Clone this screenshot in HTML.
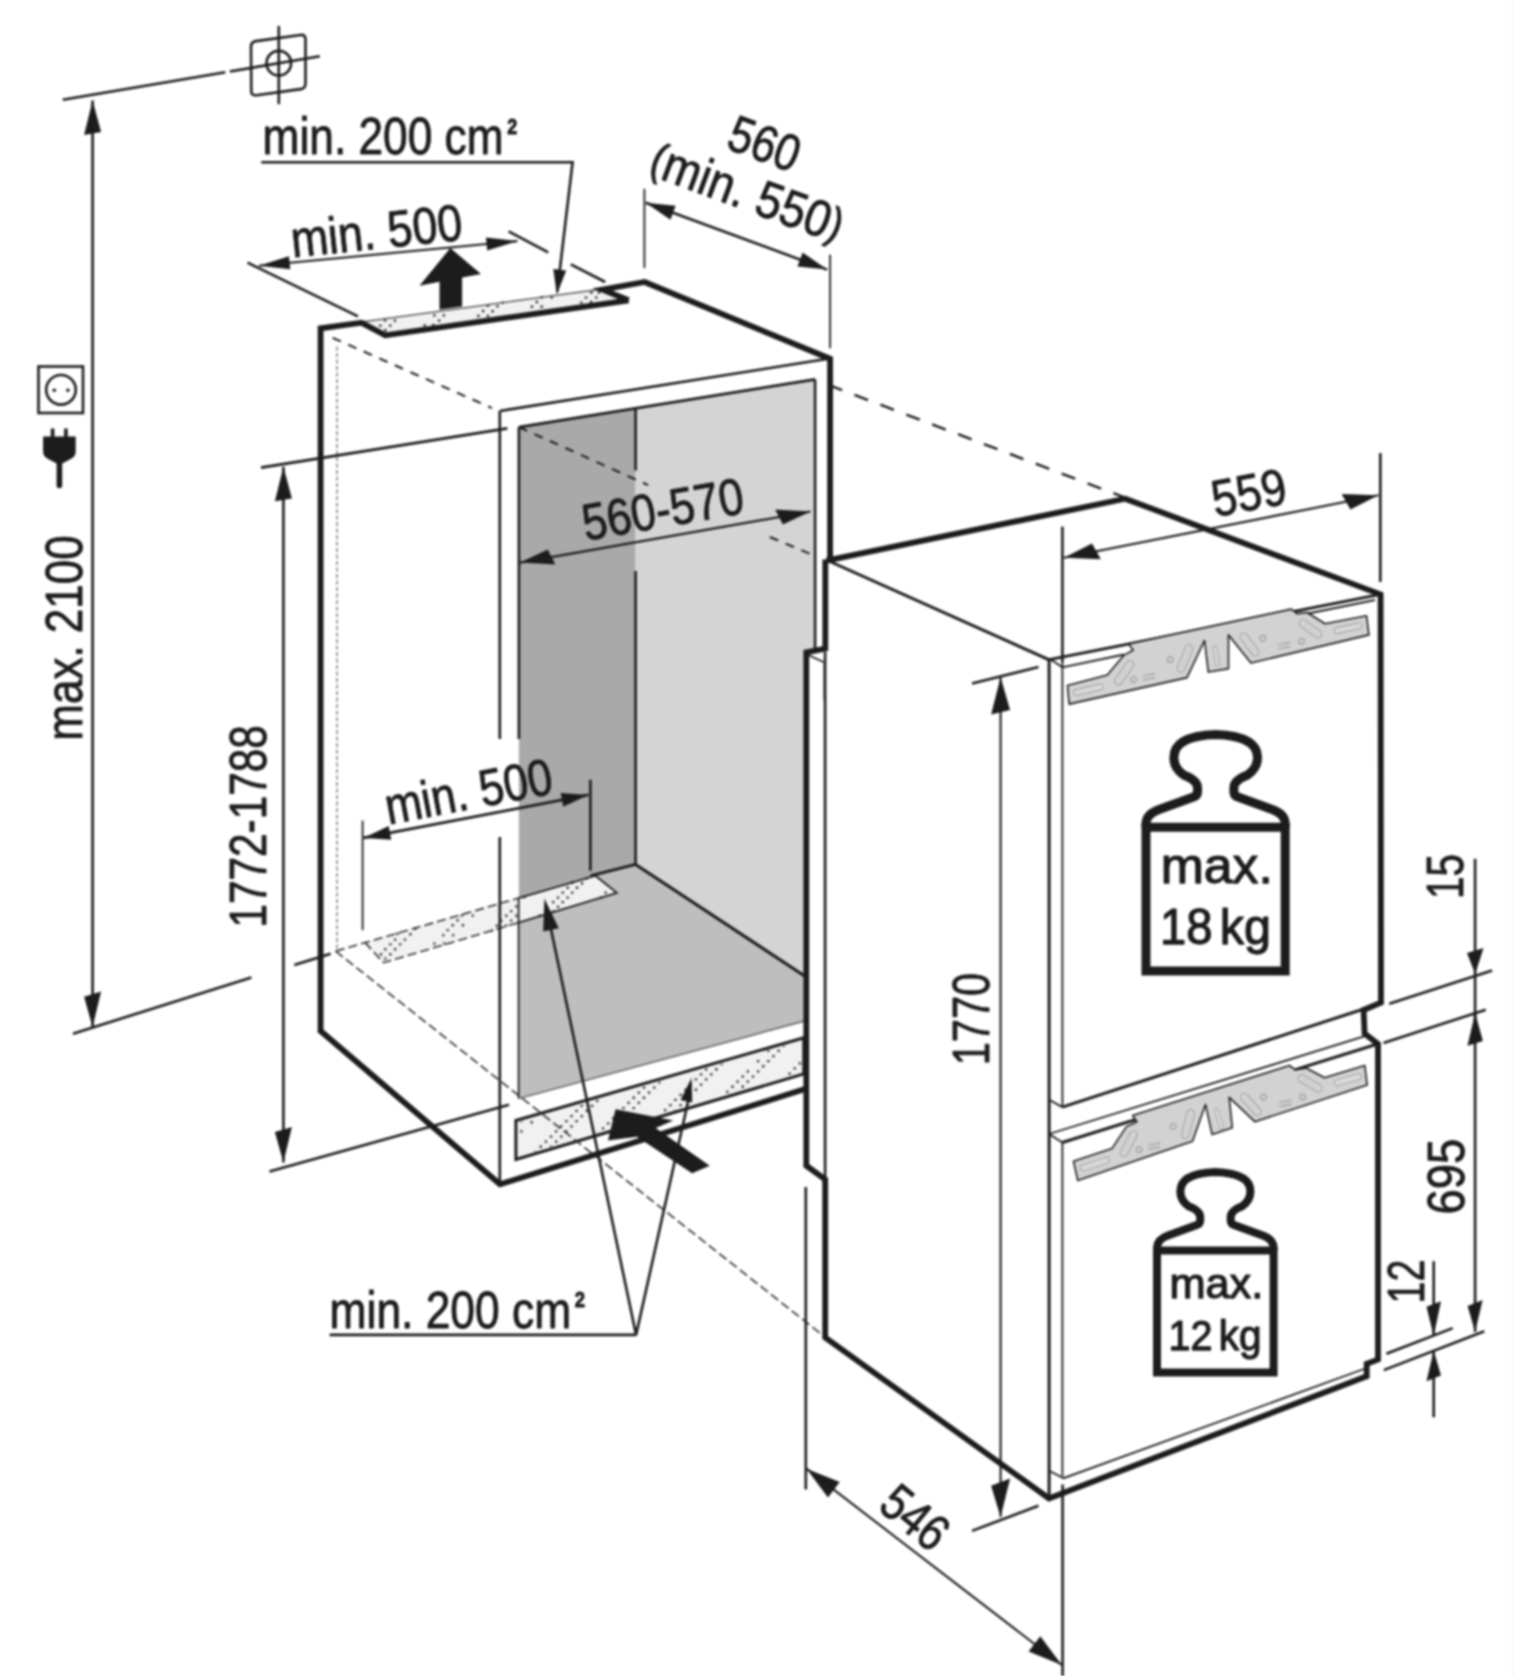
<!DOCTYPE html>
<html><head><meta charset="utf-8"><title>Installation dimensions</title>
<style>
html,body{margin:0;padding:0;background:#fff;}
body{width:1514px;height:1676px;overflow:hidden;font-family:"Liberation Sans",sans-serif;}
svg{display:block;}
.k{stroke:#1c1c1c;stroke-width:5.8;fill:none;stroke-linejoin:miter;stroke-linecap:butt;}
.k4{stroke:#1c1c1c;stroke-width:4;fill:none;stroke-linejoin:miter;}
.m{stroke:#1c1c1c;stroke-width:3;fill:none;stroke-linejoin:miter;}
.t{stroke:#1c1c1c;stroke-width:2.6;fill:none;}
.t2{stroke:#1c1c1c;stroke-width:2.1;fill:none;}
.h{stroke:#1c1c1c;stroke-width:1.8;fill:none;}
.hg{stroke:#5a5a5a;stroke-width:1.5;fill:none;}
.d2{stroke:#1c1c1c;stroke-width:2;fill:none;stroke-dasharray:9 8;}
.d1{stroke:#2e2e2e;stroke-width:1.6;fill:none;stroke-dasharray:9.2 4;}
.d0{stroke:#3a3a3a;stroke-width:1;fill:none;stroke-dasharray:4 2.5;}
.f{fill:#1c1c1c;stroke:none;}
.tx{font-family:"Liberation Sans",sans-serif;fill:#1c1c1c;stroke:#1c1c1c;stroke-width:0.9;stroke-linejoin:round;}
.g1{fill:#a9a9a9;stroke:none;}
.g2{fill:#d4d4d4;stroke:none;}
.g3{fill:#bebebe;stroke:none;}
.v{fill:#f1f1f1;stroke:none;}
.br{fill:#d2d2d2;stroke:#1c1c1c;stroke-width:1.6;stroke-linejoin:round;}
.bs{fill:none;stroke:#a2a2a2;stroke-width:1.3;}
.w{stroke:#1c1c1c;fill:none;stroke-linejoin:round;}
</style></head>
<body>
<svg width="1514" height="1676" viewBox="0 0 1514 1676">
<defs><filter id="soft" color-interpolation-filters="sRGB" filterUnits="userSpaceOnUse" x="-10" y="-10" width="1534" height="1696"><feGaussianBlur stdDeviation="0.8"/></filter></defs>
<rect x="-10" y="-10" width="1534" height="1696" fill="#ffffff"/>
<g filter="url(#soft)">
<rect x="-10" y="-10" width="1534" height="1696" fill="#ffffff"/>
<rect x="1512.5" y="0" width="1.5" height="1676" fill="#f4f4f4"/>
<path d="M518.9,427.1 L635.6,408.3 L635.6,864.4 L518.9,898.3 Z" class="g1" />
<path d="M635.6,408.3 L815.1,379.4 L815.1,652 L806.3,652 L806.3,977 L635.6,864.4 Z" class="g2" />
<path d="M635.6,864.4 L806.3,977 L806.3,1020.5 L518.6,1098.6 L518.6,898.3 Z" class="g3" />
<path d="M365.3,942.9 L517.7,898.3 L517.7,922.9 L383.5,962.7 Z" class="v" />
<path d="M517.7,898.3 L595.5,875.7 L616.8,892.8 L517.7,922.9 Z" class="v" />
<path d="M361.5,322.7 L602.5,289.6 L628.8,300.2 L385.3,335.3 Z" class="v" />
<path d="M515.9,1120.5 L803.8,1037.7 L803.8,1074 L515.9,1159.4 Z" class="v" />
<path d="M383.8,319.0h2.4v2.4h-2.4zM393.8,319.4h2.4v2.4h-2.4zM379.1,324.4h2.4v2.4h-2.4zM389.0,324.4h2.4v2.4h-2.4zM384.2,329.0h2.4v2.4h-2.4zM433.1,314.2h2.4v2.4h-2.4zM442.7,314.2h2.4v2.4h-2.4zM437.9,319.4h2.4v2.4h-2.4zM423.5,324.2h2.4v2.4h-2.4zM432.1,323.8h2.4v2.4h-2.4zM486.7,304.7h2.4v2.4h-2.4zM496.3,305.2h2.4v2.4h-2.4zM501.5,301.4h2.4v2.4h-2.4zM481.9,309.8h2.4v2.4h-2.4zM491.5,310.0h2.4v2.4h-2.4zM477.2,314.8h2.4v2.4h-2.4zM486.7,314.8h2.4v2.4h-2.4zM540.4,296.0h2.4v2.4h-2.4zM550.5,296.0h2.4v2.4h-2.4zM535.6,300.8h2.4v2.4h-2.4zM530.8,305.6h2.4v2.4h-2.4zM540.4,305.6h2.4v2.4h-2.4zM590.2,291.3h2.4v2.4h-2.4zM597.8,291.3h2.4v2.4h-2.4zM584.8,296.4h2.4v2.4h-2.4zM595.0,296.4h2.4v2.4h-2.4zM580.2,301.4h2.4v2.4h-2.4zM589.8,300.8h2.4v2.4h-2.4z" fill="#2e2e2e"/>
<path d="M396.2,932.6h2.3v2.3h-2.3zM409.2,933.1h2.3v2.3h-2.3zM414.2,927.6h2.3v2.3h-2.3zM394.0,938.4h2.3v2.3h-2.3zM403.8,938.4h2.3v2.3h-2.3zM389.2,943.2h2.3v2.3h-2.3zM399.0,943.2h2.3v2.3h-2.3zM384.2,948.1h2.3v2.3h-2.3zM394.0,948.1h2.3v2.3h-2.3zM379.8,953.1h2.3v2.3h-2.3zM389.2,953.1h2.3v2.3h-2.3zM384.2,957.5h2.3v2.3h-2.3zM460.6,914.4h2.3v2.3h-2.3zM471.6,914.4h2.3v2.3h-2.3zM456.5,919.1h2.3v2.3h-2.3zM451.6,924.1h2.3v2.3h-2.3zM461.8,924.1h2.3v2.3h-2.3zM446.6,929.0h2.3v2.3h-2.3zM442.2,934.0h2.3v2.3h-2.3zM452.0,934.0h2.3v2.3h-2.3zM433.2,942.4h2.3v2.3h-2.3zM443.1,942.4h2.3v2.3h-2.3zM515.2,905.2h2.3v2.3h-2.3zM510.0,909.9h2.3v2.3h-2.3zM505.1,914.6h2.3v2.3h-2.3zM515.2,914.6h2.3v2.3h-2.3zM500.1,919.5h2.3v2.3h-2.3zM510.0,919.5h2.3v2.3h-2.3zM495.7,924.5h2.3v2.3h-2.3zM505.1,924.5h2.3v2.3h-2.3zM490.9,929.5h2.3v2.3h-2.3z" fill="#3a3a3a"/>
<path d="M585.8,877.2h2.3v2.3h-2.3zM571.1,881.6h2.3v2.3h-2.3zM580.9,882.1h2.3v2.3h-2.3zM566.5,886.6h2.3v2.3h-2.3zM575.9,886.6h2.3v2.3h-2.3zM561.6,891.5h2.3v2.3h-2.3zM571.1,891.5h2.3v2.3h-2.3zM556.9,896.4h2.3v2.3h-2.3zM566.5,896.4h2.3v2.3h-2.3zM552.1,901.0h2.3v2.3h-2.3zM561.6,901.0h2.3v2.3h-2.3zM556.9,905.8h2.3v2.3h-2.3zM552.1,910.2h2.3v2.3h-2.3zM523.2,896.0h2.3v2.3h-2.3zM538.5,914.6h2.3v2.3h-2.3zM604.5,891.5h2.3v2.3h-2.3zM600.0,896.4h2.3v2.3h-2.3z" fill="#2e2e2e"/>
<clipPath id="bvc"><path d="M518.5,1122.3 L801,1041 L801,1071.5 L518.5,1156.5 Z"/></clipPath>
<g clip-path="url(#bvc)">
<path d="M520.2,1130.3h2.3v2.3h-2.3zM520.2,1120.0h2.3v2.3h-2.3zM530.5,1121.1h2.3v2.3h-2.3zM524.3,1161.0h2.3v2.3h-2.3zM529.4,1155.9h2.3v2.3h-2.3zM534.5,1150.8h2.3v2.3h-2.3zM539.6,1145.6h2.3v2.3h-2.3zM544.8,1140.5h2.3v2.3h-2.3zM549.9,1135.4h2.3v2.3h-2.3zM555.0,1130.3h2.3v2.3h-2.3zM560.1,1125.2h2.3v2.3h-2.3zM565.2,1120.0h2.3v2.3h-2.3zM570.4,1114.9h2.3v2.3h-2.3zM575.5,1109.8h2.3v2.3h-2.3zM580.6,1104.7h2.3v2.3h-2.3zM585.7,1099.6h2.3v2.3h-2.3zM590.9,1094.4h2.3v2.3h-2.3zM596.0,1089.3h2.3v2.3h-2.3zM534.5,1161.0h2.3v2.3h-2.3zM539.6,1155.9h2.3v2.3h-2.3zM544.8,1150.8h2.3v2.3h-2.3zM549.9,1145.6h2.3v2.3h-2.3zM555.0,1140.5h2.3v2.3h-2.3zM560.1,1135.4h2.3v2.3h-2.3zM565.2,1130.3h2.3v2.3h-2.3zM570.4,1125.2h2.3v2.3h-2.3zM575.5,1120.0h2.3v2.3h-2.3zM580.6,1114.9h2.3v2.3h-2.3zM585.7,1109.8h2.3v2.3h-2.3zM590.9,1104.7h2.3v2.3h-2.3zM596.0,1099.6h2.3v2.3h-2.3zM601.1,1094.4h2.3v2.3h-2.3zM606.2,1089.3h2.3v2.3h-2.3zM586.5,1142.7h2.3v2.3h-2.3zM591.6,1137.6h2.3v2.3h-2.3zM596.7,1132.5h2.3v2.3h-2.3zM601.9,1127.3h2.3v2.3h-2.3zM607.0,1122.2h2.3v2.3h-2.3zM612.1,1117.1h2.3v2.3h-2.3zM617.2,1112.0h2.3v2.3h-2.3zM622.3,1106.9h2.3v2.3h-2.3zM627.5,1101.8h2.3v2.3h-2.3zM632.6,1096.6h2.3v2.3h-2.3zM637.7,1091.5h2.3v2.3h-2.3zM642.8,1086.4h2.3v2.3h-2.3zM647.9,1081.3h2.3v2.3h-2.3zM653.1,1076.1h2.3v2.3h-2.3zM658.2,1071.0h2.3v2.3h-2.3zM596.7,1142.7h2.3v2.3h-2.3zM601.9,1137.6h2.3v2.3h-2.3zM607.0,1132.5h2.3v2.3h-2.3zM612.1,1127.3h2.3v2.3h-2.3zM617.2,1122.2h2.3v2.3h-2.3zM622.3,1117.1h2.3v2.3h-2.3zM627.5,1112.0h2.3v2.3h-2.3zM632.6,1106.9h2.3v2.3h-2.3zM637.7,1101.8h2.3v2.3h-2.3zM642.8,1096.6h2.3v2.3h-2.3zM647.9,1091.5h2.3v2.3h-2.3zM653.1,1086.4h2.3v2.3h-2.3zM658.2,1081.3h2.3v2.3h-2.3zM663.3,1076.1h2.3v2.3h-2.3zM668.4,1071.0h2.3v2.3h-2.3zM648.7,1124.4h2.3v2.3h-2.3zM653.8,1119.3h2.3v2.3h-2.3zM658.9,1114.2h2.3v2.3h-2.3zM664.0,1109.0h2.3v2.3h-2.3zM669.2,1103.9h2.3v2.3h-2.3zM674.3,1098.8h2.3v2.3h-2.3zM679.4,1093.7h2.3v2.3h-2.3zM684.5,1088.6h2.3v2.3h-2.3zM689.6,1083.5h2.3v2.3h-2.3zM694.8,1078.3h2.3v2.3h-2.3zM699.9,1073.2h2.3v2.3h-2.3zM705.0,1068.1h2.3v2.3h-2.3zM710.1,1063.0h2.3v2.3h-2.3zM715.2,1057.8h2.3v2.3h-2.3zM720.4,1052.7h2.3v2.3h-2.3zM658.9,1124.4h2.3v2.3h-2.3zM664.0,1119.3h2.3v2.3h-2.3zM669.2,1114.2h2.3v2.3h-2.3zM674.3,1109.0h2.3v2.3h-2.3zM679.4,1103.9h2.3v2.3h-2.3zM684.5,1098.8h2.3v2.3h-2.3zM689.6,1093.7h2.3v2.3h-2.3zM694.8,1088.6h2.3v2.3h-2.3zM699.9,1083.5h2.3v2.3h-2.3zM705.0,1078.3h2.3v2.3h-2.3zM710.1,1073.2h2.3v2.3h-2.3zM715.2,1068.1h2.3v2.3h-2.3zM720.4,1063.0h2.3v2.3h-2.3zM725.5,1057.8h2.3v2.3h-2.3zM730.6,1052.7h2.3v2.3h-2.3zM710.9,1106.1h2.3v2.3h-2.3zM716.0,1101.0h2.3v2.3h-2.3zM721.1,1095.9h2.3v2.3h-2.3zM726.2,1090.7h2.3v2.3h-2.3zM731.4,1085.6h2.3v2.3h-2.3zM736.5,1080.5h2.3v2.3h-2.3zM741.6,1075.4h2.3v2.3h-2.3zM746.7,1070.3h2.3v2.3h-2.3zM757.0,1060.0h2.3v2.3h-2.3zM767.2,1049.8h2.3v2.3h-2.3zM772.3,1044.7h2.3v2.3h-2.3zM777.5,1039.5h2.3v2.3h-2.3zM782.6,1034.4h2.3v2.3h-2.3zM721.1,1106.1h2.3v2.3h-2.3zM726.2,1101.0h2.3v2.3h-2.3zM731.4,1095.9h2.3v2.3h-2.3zM736.5,1090.7h2.3v2.3h-2.3zM741.6,1085.6h2.3v2.3h-2.3zM746.7,1080.5h2.3v2.3h-2.3zM751.9,1075.4h2.3v2.3h-2.3zM757.0,1070.3h2.3v2.3h-2.3zM762.1,1065.1h2.3v2.3h-2.3zM767.2,1060.0h2.3v2.3h-2.3zM772.3,1054.9h2.3v2.3h-2.3zM777.5,1049.8h2.3v2.3h-2.3zM782.6,1044.7h2.3v2.3h-2.3zM787.7,1039.5h2.3v2.3h-2.3zM792.8,1034.4h2.3v2.3h-2.3zM773.1,1087.8h2.3v2.3h-2.3zM778.2,1082.7h2.3v2.3h-2.3zM783.3,1077.6h2.3v2.3h-2.3zM788.4,1072.4h2.3v2.3h-2.3zM793.6,1067.3h2.3v2.3h-2.3zM798.7,1062.2h2.3v2.3h-2.3zM803.8,1057.1h2.3v2.3h-2.3zM808.9,1052.0h2.3v2.3h-2.3zM814.0,1046.8h2.3v2.3h-2.3zM819.2,1041.7h2.3v2.3h-2.3zM824.3,1036.6h2.3v2.3h-2.3zM829.4,1031.5h2.3v2.3h-2.3zM834.5,1026.4h2.3v2.3h-2.3zM839.6,1021.2h2.3v2.3h-2.3zM844.8,1016.1h2.3v2.3h-2.3zM783.3,1087.8h2.3v2.3h-2.3zM788.4,1082.7h2.3v2.3h-2.3zM793.6,1077.6h2.3v2.3h-2.3zM798.7,1072.4h2.3v2.3h-2.3zM803.8,1067.3h2.3v2.3h-2.3zM808.9,1062.2h2.3v2.3h-2.3zM814.0,1057.1h2.3v2.3h-2.3zM819.2,1052.0h2.3v2.3h-2.3zM824.3,1046.8h2.3v2.3h-2.3zM829.4,1041.7h2.3v2.3h-2.3zM834.5,1036.6h2.3v2.3h-2.3zM839.6,1031.5h2.3v2.3h-2.3zM844.8,1026.4h2.3v2.3h-2.3zM849.9,1021.2h2.3v2.3h-2.3zM855.0,1016.1h2.3v2.3h-2.3z" fill="#2e2e2e"/>
</g>
<line x1="337" y1="346.6" x2="337" y2="951.2" class="d0"/>
<line x1="335.6" y1="951.2" x2="517.7" y2="898.3" class="d1"/>
<path d="M517.7,922.9 L383.5,962.7 L365.3,942.9" class="d1" />
<line x1="332.6" y1="337.8" x2="492" y2="408.1" class="d2"/>
<line x1="518.9" y1="427.1" x2="648.2" y2="485.1" class="d2"/>
<line x1="769.9" y1="537" x2="815.1" y2="555.9" class="d2"/>
<line x1="829.5" y1="385.4" x2="1124.4" y2="497.4" stroke="#1c1c1c" stroke-width="2.4" stroke-dasharray="14.5 13.2" stroke-dashoffset="1"/>
<line x1="499.8" y1="411" x2="499.8" y2="739" class="t"/>
<line x1="499.8" y1="837" x2="499.8" y2="1183.5" class="t"/>
<line x1="499.8" y1="411" x2="828" y2="358.8" class="t"/>
<line x1="518.9" y1="427.1" x2="815.1" y2="379.4" class="t"/>
<line x1="518.9" y1="427.1" x2="518.9" y2="739" class="t"/>
<line x1="518.6" y1="898.3" x2="518.6" y2="1098.6" class="h"/>
<line x1="815.1" y1="379.4" x2="815.1" y2="650" class="t"/>
<line x1="635.6" y1="408.3" x2="635.6" y2="470.5" class="t"/>
<line x1="635.6" y1="570.9" x2="635.6" y2="864.4" class="t"/>
<line x1="635.6" y1="864.4" x2="590.4" y2="875.9" class="m"/>
<line x1="635.6" y1="864.4" x2="805" y2="976.2" class="m"/>
<path d="M517.7,898.3 L595.5,875.7 L616.8,892.8 L517.7,922.9" class="h" />
<line x1="518.6" y1="1098.6" x2="806.3" y2="1020.5" class="hg"/>
<line x1="825.1" y1="652" x2="825.1" y2="1178" class="t"/>
<line x1="361.5" y1="322" x2="602.5" y2="289" class="hg"/>
<path d="M515.9,1120.5 L803.8,1037.7 L803.8,1074 L515.9,1159.4 Z" class="m" />
<line x1="335.6" y1="951.2" x2="822.6" y2="1335.1" class="d1"/>
<path class="k" stroke-linecap="round" d="M320.6,1033.1 L320.6,328.3 L361.5,322.7 L385.3,335.3 L628.6,300.3" />
<path class="k" stroke-linecap="round" d="M628.6,300.3 L602.5,289.6 L644.7,282 L830.1,358.8 L830.1,558" />
<path class="k" d="M320.6,1031 L500,1184.3 L805,1089.1" />
<line x1="62.8" y1="99.8" x2="225.3" y2="72.3" class="t"/>
<line x1="229.8" y1="71.5" x2="319.8" y2="56.3" class="t"/>
<path class="t" stroke-linejoin="round" d="M256,41.1 L300.5,35 Q305.5,34.3 305.5,39.3 L305.5,83.4 Q305.5,88.4 300.5,89.1 L256.6,95.2 Q251.3,95.9 251.3,90.9 L251,46.8 Q251,41.8 256,41.1 Z"/>
<circle cx="278.8" cy="63.2" r="12.3" class="t"/>
<line x1="278.8" y1="25.9" x2="278.8" y2="104.2" class="t"/>
<line x1="92.6" y1="100.5" x2="92.6" y2="1027.1" class="t"/>
<path d="M92.6,100.5 L101.1,132.1 L84.1,134.9 Z" class="f"/>
<path d="M92.6,1027.1 L101.1,991.4 L84.1,996.8 Z" class="f"/>
<line x1="73" y1="1033.7" x2="251.4" y2="977.6" class="t"/>
<line x1="294.3" y1="965.1" x2="330.6" y2="953.8" class="t"/>
<text transform="translate(81.6,740.7) rotate(-90)" font-size="52" class="tx" text-anchor="start" textLength="205.4" lengthAdjust="spacingAndGlyphs" >max. 2100</text>
<rect x="38.5" y="366.5" width="44.5" height="46.5" class="t"/>
<circle cx="61" cy="389.8" r="14.8" class="t"/>
<circle cx="54.3" cy="390.2" r="1.8" class="f"/><circle cx="67.9" cy="390.2" r="1.8" class="f"/>
<path class="f" d="M50.8,428.5 h3.6 v8 h9.7 v-8 h3.6 v8 h8 v15 q0,5 -5,7.5 l-8.5,4.5 v22 q0,2.8 -2.8,2.8 q-2.8,0 -2.8,-2.8 v-22 l-8.5,-4.5 q-5,-2.5 -5,-7.5 v-15 h7.7 Z"/>
<line x1="283.4" y1="466.8" x2="283.4" y2="1162.5" class="t"/>
<path d="M283.4,466.8 L291.9,498.4 L274.9,501.2 Z" class="f"/>
<path d="M283.4,1162.5 L291.9,1127.1 L274.9,1131.9 Z" class="f"/>
<line x1="261" y1="467.6" x2="507.3" y2="428.4" class="t"/>
<line x1="269.5" y1="1171.5" x2="509" y2="1104.8" class="t"/>
<text transform="translate(265.8,927.5) rotate(-90)" font-size="52" class="tx" text-anchor="start" textLength="202.3" lengthAdjust="spacingAndGlyphs" >1772-1788</text>
<text transform="translate(262.6,153.5) rotate(0)" font-size="51.5" class="tx" text-anchor="start" textLength="241" lengthAdjust="spacingAndGlyphs" >min. 200 cm</text>
<text transform="translate(507.3,134) rotate(0)" font-size="21.5" class="tx" text-anchor="start" textLength="10" lengthAdjust="spacingAndGlyphs" font-weight="bold">2</text>
<path d="M261.3,162.2 L572.6,162.2 L557.2,292" class="t" />
<path d="M556.8,294.5 L553.3,268.9 L566.2,270.4 Z" class="f"/>
<line x1="258.8" y1="265.7" x2="517.4" y2="241.1" class="t2"/>
<path d="M258.8,265.7 L289.0,256.3 L290.3,269.2 Z" class="f"/>
<path d="M517.4,241.1 L487.2,250.5 L485.9,237.6 Z" class="f"/>
<line x1="247.5" y1="262.7" x2="358" y2="316.4" class="t"/>
<line x1="508.6" y1="231.3" x2="548.2" y2="252.4" class="t"/>
<line x1="570.8" y1="264.4" x2="605.2" y2="282" class="t"/>
<text transform="translate(292.7,257.6) rotate(-6)" font-size="51.5" class="tx" text-anchor="start" textLength="172" lengthAdjust="spacingAndGlyphs" >min. 500</text>
<path class="f" d="M450.3,248.1 L481,273.9 L462.1,277.5 L462.1,306.5 L439.5,309.8 L439.5,281.8 L419.5,285.7 Z"/>
<line x1="645.8" y1="202.7" x2="827.2" y2="269.6" class="t"/>
<path d="M645.8,202.7 L675.6,205.7 L670.4,219.8 Z" class="f"/>
<path d="M827.2,269.6 L797.4,266.6 L802.6,252.5 Z" class="f"/>
<line x1="644.4" y1="188.8" x2="644.4" y2="268.1" class="h"/>
<line x1="830.1" y1="254.7" x2="830.1" y2="348.3" class="h"/>
<text transform="translate(724.5,147.8) rotate(20.2)" font-size="51.5" class="tx" text-anchor="start" textLength="72.5" lengthAdjust="spacingAndGlyphs" >560</text>
<text transform="translate(646.5,174) rotate(20.2)" font-size="51.5" class="tx" text-anchor="start" textLength="202" lengthAdjust="spacingAndGlyphs" ><tspan font-size="45" dy="-3">(</tspan><tspan dy="3">min. 550</tspan><tspan font-size="45" dy="-3">)</tspan></text>
<line x1="520.1" y1="562.6" x2="810.5" y2="511.5" class="t2"/>
<path d="M520.1,562.6 L555.4,564.5 L547.8,549.6 Z" class="f"/>
<path d="M810.5,511.5 L782.8,524.5 L775.2,509.6 Z" class="f"/>
<text transform="translate(585.4,540.8) rotate(-9.9)" font-size="51.5" class="tx" text-anchor="start" textLength="163" lengthAdjust="spacingAndGlyphs" >560-570</text>
<line x1="363.5" y1="837.9" x2="588.4" y2="794.9" class="t"/>
<path d="M363.5,837.9 L388.7,826.0 L391.3,839.7 Z" class="f"/>
<path d="M588.4,794.9 L563.2,806.8 L560.6,793.1 Z" class="f"/>
<line x1="362.6" y1="820.6" x2="362.6" y2="930.2" class="h"/>
<line x1="590.4" y1="779.8" x2="590.4" y2="870.7" class="t"/>
<text transform="translate(388.4,824.4) rotate(-10.6)" font-size="51.5" class="tx" text-anchor="start" textLength="169.5" lengthAdjust="spacingAndGlyphs" >min. 500</text>
<text transform="translate(329.6,1327.9) rotate(0)" font-size="52" class="tx" text-anchor="start" textLength="241.5" lengthAdjust="spacingAndGlyphs" >min. 200 cm</text>
<text transform="translate(574.8,1307) rotate(0)" font-size="22" class="tx" text-anchor="start" textLength="10.3" lengthAdjust="spacingAndGlyphs" font-weight="bold">2</text>
<line x1="329.6" y1="1334.9" x2="636.3" y2="1334.9" class="t"/>
<line x1="636.1" y1="1334.9" x2="549.5" y2="922" class="t"/>
<path d="M544.4,898.5 L558.8,928.2 L543.2,931.5 Z" class="f"/>
<line x1="636.1" y1="1334.9" x2="689.3" y2="1096" class="t"/>
<path d="M691.6,1077.8 L692.2,1102.5 L680.5,1099.9 Z" class="f"/>
<path class="f" d="M615.5,1109.2 L673.3,1120.5 L655.7,1128 L709.7,1165.7 L692.1,1173.2 L636.9,1136.8 L608,1140.6 Z"/>
<line x1="827.7" y1="560.5" x2="1048.8" y2="659.6" class="m"/>
<line x1="1049.1" y1="659.6" x2="1049.1" y2="1498.3" class="m"/>
<line x1="1062.4" y1="662.5" x2="1062.4" y2="1107.1" class="h"/>
<line x1="1062.4" y1="1142.5" x2="1062.4" y2="1476.5" class="h"/>
<line x1="1049.1" y1="658.5" x2="1062.4" y2="667.3" class="h"/>
<line x1="1049.1" y1="659.6" x2="1380.5" y2="594.4" class="m"/>
<line x1="1062.4" y1="667.3" x2="1124" y2="654.5" class="h"/>
<line x1="1308" y1="613.5" x2="1375" y2="600" class="h"/>
<line x1="1049.1" y1="1099.7" x2="1062.3" y2="1107.1" class="h"/>
<line x1="1062.3" y1="1107.1" x2="1381.5" y2="1003.2" class="m"/>
<line x1="1049.1" y1="1134" x2="1364.8" y2="1036.2" class="h"/>
<line x1="1049.1" y1="1134" x2="1062.3" y2="1142.5" class="h"/>
<line x1="1062.3" y1="1142.5" x2="1376" y2="1044.5" class="m"/>
<path d="M1049.1,1470.7 L1063.6,1478.2 L1366.7,1368" class="h" />
<path d="M1067.5,685.4 L1107.3,674.9 L1124.1,655.1 L1133.1,650.2 L1128.6,643.9 L1291.4,609.1 L1297,613.6 L1307.1,612.5 L1325.1,623.7 L1366.6,615.8 L1368.9,634.9 L1251,663 L1228.5,634.9 L1228.5,668.6 L1208.3,672 L1204.5,640.5 L1187,677.6 L1069.1,704.1 Z" class="br" />
<path d="M1073.5,1161.3 L1111.9,1148.6 L1126.5,1126.6 L1137,1121.7 L1132.6,1115.6 L1289.5,1065.5 L1295.2,1069.9 L1306.2,1068 L1324.5,1077.8 L1364.8,1065.5 L1367.2,1085.1 L1254.8,1121.7 L1229.2,1097.3 L1232.3,1127.8 L1212.1,1134.4 L1205.5,1104.6 L1192.5,1141.3 L1077.7,1180.4 Z" class="br" />
<line x1="1118.5" y1="681" x2="1130" y2="664.5" stroke="#a2a2a2" stroke-width="8.5" stroke-linecap="round"/>
<line x1="1118.5" y1="681" x2="1130" y2="664.5" stroke="#d9d9d9" stroke-width="6.1" stroke-linecap="round"/>
<line x1="1118.5" y1="681" x2="1130" y2="664.5" stroke="#b4b4b4" stroke-width="0.9" stroke-linecap="round"/>
<line x1="1181" y1="668.5" x2="1189" y2="648.5" stroke="#a2a2a2" stroke-width="8.5" stroke-linecap="round"/>
<line x1="1181" y1="668.5" x2="1189" y2="648.5" stroke="#d9d9d9" stroke-width="6.1" stroke-linecap="round"/>
<line x1="1181" y1="668.5" x2="1189" y2="648.5" stroke="#b4b4b4" stroke-width="0.9" stroke-linecap="round"/>
<line x1="1244" y1="637" x2="1255" y2="652" stroke="#a2a2a2" stroke-width="8.5" stroke-linecap="round"/>
<line x1="1244" y1="637" x2="1255" y2="652" stroke="#d9d9d9" stroke-width="6.1" stroke-linecap="round"/>
<line x1="1244" y1="637" x2="1255" y2="652" stroke="#b4b4b4" stroke-width="0.9" stroke-linecap="round"/>
<line x1="1303" y1="623.5" x2="1318" y2="634" stroke="#a2a2a2" stroke-width="8.5" stroke-linecap="round"/>
<line x1="1303" y1="623.5" x2="1318" y2="634" stroke="#d9d9d9" stroke-width="6.1" stroke-linecap="round"/>
<line x1="1303" y1="623.5" x2="1318" y2="634" stroke="#b4b4b4" stroke-width="0.9" stroke-linecap="round"/>
<circle cx="1133.5" cy="679.4" r="2.8" class="bs"/>
<circle cx="1170.1" cy="659.6" r="2.8" class="bs"/>
<circle cx="1262.9" cy="638.3" r="2.8" class="bs"/>
<circle cx="1301.5" cy="641.2" r="2.8" class="bs"/>
<line x1="1076.5" y1="692.5" x2="1100.0" y2="687.0" stroke="#a8a8a8" stroke-width="7" stroke-linecap="round"/>
<line x1="1076.5" y1="692.5" x2="1100.0" y2="687.0" stroke="#dadada" stroke-width="4.8" stroke-linecap="round"/>
<line x1="1337.0" y1="630.5" x2="1359.0" y2="626.0" stroke="#a8a8a8" stroke-width="7" stroke-linecap="round"/>
<line x1="1337.0" y1="630.5" x2="1359.0" y2="626.0" stroke="#dadada" stroke-width="4.8" stroke-linecap="round"/>
<path d="M1143.0,676.0 l12,-2.6 M1143.0,680.0 l12,-2.6" stroke="#9a9a9a" stroke-width="1.2" fill="none"/>
<path d="M1278.0,645.0 l12,-2.6 M1278.0,649.0 l12,-2.6" stroke="#9a9a9a" stroke-width="1.2" fill="none"/>
<line x1="1215.0" y1="648.0" x2="1217.5" y2="664.0" stroke="#a8a8a8" stroke-width="5" stroke-linecap="round"/>
<line x1="1215.0" y1="648.0" x2="1217.5" y2="664.0" stroke="#dadada" stroke-width="3" stroke-linecap="round"/>
<line x1="1124.2" y1="1152.6" x2="1133.5" y2="1134.7" stroke="#a2a2a2" stroke-width="8.5" stroke-linecap="round"/>
<line x1="1124.2" y1="1152.6" x2="1133.5" y2="1134.7" stroke="#d9d9d9" stroke-width="6.1" stroke-linecap="round"/>
<line x1="1124.2" y1="1152.6" x2="1133.5" y2="1134.7" stroke="#b4b4b4" stroke-width="0.9" stroke-linecap="round"/>
<line x1="1185.4" y1="1134.7" x2="1190.6" y2="1113.5" stroke="#a2a2a2" stroke-width="8.5" stroke-linecap="round"/>
<line x1="1185.4" y1="1134.7" x2="1190.6" y2="1113.5" stroke="#d9d9d9" stroke-width="6.1" stroke-linecap="round"/>
<line x1="1185.4" y1="1134.7" x2="1190.6" y2="1113.5" stroke="#b4b4b4" stroke-width="0.9" stroke-linecap="round"/>
<line x1="1244.4" y1="1097.2" x2="1257.5" y2="1111.8" stroke="#a2a2a2" stroke-width="8.5" stroke-linecap="round"/>
<line x1="1244.4" y1="1097.2" x2="1257.5" y2="1111.8" stroke="#d9d9d9" stroke-width="6.1" stroke-linecap="round"/>
<line x1="1244.4" y1="1097.2" x2="1257.5" y2="1111.8" stroke="#b4b4b4" stroke-width="0.9" stroke-linecap="round"/>
<line x1="1301.9" y1="1078.6" x2="1318.4" y2="1088.2" stroke="#a2a2a2" stroke-width="8.5" stroke-linecap="round"/>
<line x1="1301.9" y1="1078.6" x2="1318.4" y2="1088.2" stroke="#d9d9d9" stroke-width="6.1" stroke-linecap="round"/>
<line x1="1301.9" y1="1078.6" x2="1318.4" y2="1088.2" stroke="#b4b4b4" stroke-width="0.9" stroke-linecap="round"/>
<circle cx="1139.1" cy="1149.8" r="2.8" class="bs"/>
<circle cx="1173.2" cy="1126.5" r="2.8" class="bs"/>
<circle cx="1263.6" cy="1097.0" r="2.8" class="bs"/>
<circle cx="1302.8" cy="1096.9" r="2.8" class="bs"/>
<line x1="1083.5" y1="1167.9" x2="1106.4" y2="1160.3" stroke="#a8a8a8" stroke-width="7" stroke-linecap="round"/>
<line x1="1083.5" y1="1167.9" x2="1106.4" y2="1160.3" stroke="#dadada" stroke-width="4.8" stroke-linecap="round"/>
<line x1="1337.1" y1="1083.0" x2="1358.6" y2="1076.6" stroke="#a8a8a8" stroke-width="7" stroke-linecap="round"/>
<line x1="1337.1" y1="1083.0" x2="1358.6" y2="1076.6" stroke="#dadada" stroke-width="4.8" stroke-linecap="round"/>
<path d="M1148.2,1145.5 l12,-2.6 M1148.2,1149.5 l12,-2.6" stroke="#9a9a9a" stroke-width="1.2" fill="none"/>
<path d="M1279.7,1102.7 l12,-2.6 M1279.7,1106.7 l12,-2.6" stroke="#9a9a9a" stroke-width="1.2" fill="none"/>
<line x1="1216.7" y1="1110.9" x2="1221.5" y2="1127.1" stroke="#a8a8a8" stroke-width="5" stroke-linecap="round"/>
<line x1="1216.7" y1="1110.9" x2="1221.5" y2="1127.1" stroke="#dadada" stroke-width="3" stroke-linecap="round"/>
<path class="k" d="M827.7,562.5 L825.3,562.5 L825.3,648.5 L806.3,652.3 L806.3,1165.7 L825.2,1179.5 L825.2,1337.6 L1049,1498.4 L1366.7,1376.3 L1366.7,1363.8 L1378,1359.6 L1378,1043.9 L1364.6,1033.5 L1363.6,1010 L1381,1002.6 L1380.6,594.4 L1125.2,498.7 L826.5,560.6" stroke-linejoin="miter"/>
<line x1="808" y1="655" x2="823.5" y2="662" class="h"/>
<line x1="824.5" y1="661" x2="824.5" y2="700" class="h"/>
<path d="M1146.0,827.2 L1146.0,823.5 Q1146.5,814.0 1159.1,809.6 L1193.5,797.1 Q1197.5,795.7 1197.5,791.5 L1197.5,787.9 Q1197.5,780.0 1184.1,775.2 Q1173.5,768.0 1173.9,757.3 Q1174.0,736.0 1215.6,734.5 Q1257.4,736.0 1257.5,757.3 Q1257.7,768.0 1247.2,775.2 Q1233.9,780.0 1233.9,787.9 L1233.9,791.5 Q1233.9,795.7 1237.9,797.1 L1272.3,809.6 Q1284.7,814.0 1285.2,823.5 L1285.2,827.2" class="w" stroke-width="9"/>
<path d="M1146.0,823.0 L1146.0,971.1 L1285.2,971.1 L1285.2,823.0 M1146.0,827.2 L1285.2,827.2" stroke="#1c1c1c" fill="none" stroke-width="9" stroke-linejoin="miter"/>
<text transform="translate(1160.8,882.6) rotate(0)" font-size="50" class="tx" text-anchor="start" textLength="112.0" lengthAdjust="spacingAndGlyphs" style="stroke-width:1.25">max.</text>
<text transform="translate(1159.9,944.3) rotate(0)" font-size="50" class="tx" text-anchor="start" textLength="52.5" lengthAdjust="spacingAndGlyphs" style="stroke-width:1.25">18</text>
<text transform="translate(1219.7,944.3) rotate(0)" font-size="50" class="tx" text-anchor="start" textLength="51.2" lengthAdjust="spacingAndGlyphs" style="stroke-width:1.25">kg</text>
<path d="M1157.0,1250.6 L1157.0,1247.4 Q1157.4,1239.4 1168.0,1235.6 L1196.8,1225.0 Q1200.2,1223.9 1200.2,1220.3 L1200.2,1217.3 Q1200.2,1210.6 1188.9,1206.5 Q1180.0,1200.4 1180.4,1191.3 Q1180.5,1173.3 1215.3,1172.0 Q1250.4,1173.3 1250.4,1191.3 Q1250.6,1200.4 1241.8,1206.5 Q1230.7,1210.6 1230.7,1217.3 L1230.7,1220.3 Q1230.7,1223.9 1234.0,1225.0 L1262.8,1235.6 Q1273.2,1239.4 1273.6,1247.4 L1273.6,1250.6" class="w" stroke-width="8"/>
<path d="M1157.0,1247.0 L1157.0,1372.5 L1273.6,1372.5 L1273.6,1247.0 M1157.0,1250.6 L1273.6,1250.6" stroke="#1c1c1c" fill="none" stroke-width="8" stroke-linejoin="miter"/>
<text transform="translate(1169.4,1297.5) rotate(0)" font-size="43" class="tx" text-anchor="start" textLength="93.9" lengthAdjust="spacingAndGlyphs" style="stroke-width:1.25">max.</text>
<text transform="translate(1168.6,1349.8) rotate(0)" font-size="43" class="tx" text-anchor="start" textLength="44.0" lengthAdjust="spacingAndGlyphs" style="stroke-width:1.25">12</text>
<text transform="translate(1218.8,1349.8) rotate(0)" font-size="43" class="tx" text-anchor="start" textLength="42.9" lengthAdjust="spacingAndGlyphs" style="stroke-width:1.25">kg</text>
<line x1="1064" y1="557.8" x2="1378.4" y2="495.3" class="t2"/>
<path d="M1064.0,557.8 L1100.8,559.2 L1092.0,543.6 Z" class="f"/>
<path d="M1378.4,495.3 L1350.4,509.5 L1341.6,493.9 Z" class="f"/>
<line x1="1062.4" y1="526.6" x2="1062.4" y2="662.5" class="t"/>
<line x1="1380.3" y1="453.1" x2="1380.3" y2="581.9" class="t"/>
<text transform="translate(1215.3,517) rotate(-10.8)" font-size="51.5" class="tx" text-anchor="start" textLength="75" lengthAdjust="spacingAndGlyphs" >559</text>
<line x1="1000.6" y1="677.2" x2="1000.6" y2="1517.1" class="t2"/>
<path d="M1000.6,677.2 L1010.1,709.9 L991.1,714.5 Z" class="f"/>
<path d="M1000.6,1517.1 L1010.1,1478.5 L991.1,1485.7 Z" class="f"/>
<line x1="972" y1="683.5" x2="1038.5" y2="667.1" class="t"/>
<line x1="972" y1="1530.9" x2="1038.5" y2="1505.8" class="t"/>
<text transform="translate(989,1065.3) rotate(-90)" font-size="52" class="tx" text-anchor="start" textLength="92.4" lengthAdjust="spacingAndGlyphs" >1770</text>
<line x1="806.5" y1="1468.7" x2="1061.8" y2="1665" class="t2"/>
<path d="M806.5,1468.7 L839.7,1482.1 L828.0,1497.4 Z" class="f"/>
<path d="M1061.8,1665.0 L1028.6,1651.6 L1040.3,1636.3 Z" class="f"/>
<line x1="805.8" y1="1187" x2="805.8" y2="1489.5" class="t"/>
<line x1="1062.6" y1="1484.5" x2="1062.6" y2="1676" class="t"/>
<text transform="translate(876.5,1508.5) rotate(39.5)" font-size="51.5" class="tx" text-anchor="start" textLength="71" lengthAdjust="spacingAndGlyphs" >546</text>
<line x1="1475.1" y1="858.8" x2="1475.1" y2="1043" class="t"/>
<path d="M1475.2,974.0 L1483.5,947.9 L1467.0,953.1 Z" class="f"/>
<path d="M1475.2,1013.2 L1482.7,1040.8 L1467.7,1045.6 Z" class="f"/>
<line x1="1389.3" y1="1003.8" x2="1492.1" y2="970.4" class="t"/>
<line x1="1383.5" y1="1043.1" x2="1485.8" y2="1009.7" class="t"/>
<text transform="translate(1462.9,898.9) rotate(-90)" font-size="52" class="tx" text-anchor="start" textLength="45" lengthAdjust="spacingAndGlyphs" >15</text>
<line x1="1475.1" y1="1014.4" x2="1475.1" y2="1332" class="t"/>
<path d="M1475.1,1014.4 L1482.6,1041.0 L1467.6,1045.8 Z" class="f"/>
<path d="M1475.1,1332.0 L1482.6,1300.1 L1467.6,1305.9 Z" class="f"/>
<line x1="1383.8" y1="1370.1" x2="1484.3" y2="1331.2" class="t"/>
<text transform="translate(1464.2,1214.6) rotate(-90)" font-size="52" class="tx" text-anchor="start" textLength="76" lengthAdjust="spacingAndGlyphs" >695</text>
<line x1="1433.7" y1="1261.2" x2="1433.7" y2="1336" class="t"/>
<path d="M1433.7,1336.0 L1441.0,1301.2 L1426.5,1306.8 Z" class="f"/>
<path d="M1433.7,1350.4 L1441.0,1375.6 L1426.5,1381.2 Z" class="f"/>
<line x1="1433.7" y1="1350.4" x2="1433.7" y2="1417.3" class="t"/>
<line x1="1386.4" y1="1353.8" x2="1452.8" y2="1328.1" class="t"/>
<text transform="translate(1424.2,1303.5) rotate(-90)" font-size="51.5" class="tx" text-anchor="start" textLength="43.8" lengthAdjust="spacingAndGlyphs" >12</text>
</g>
</svg>
</body></html>
